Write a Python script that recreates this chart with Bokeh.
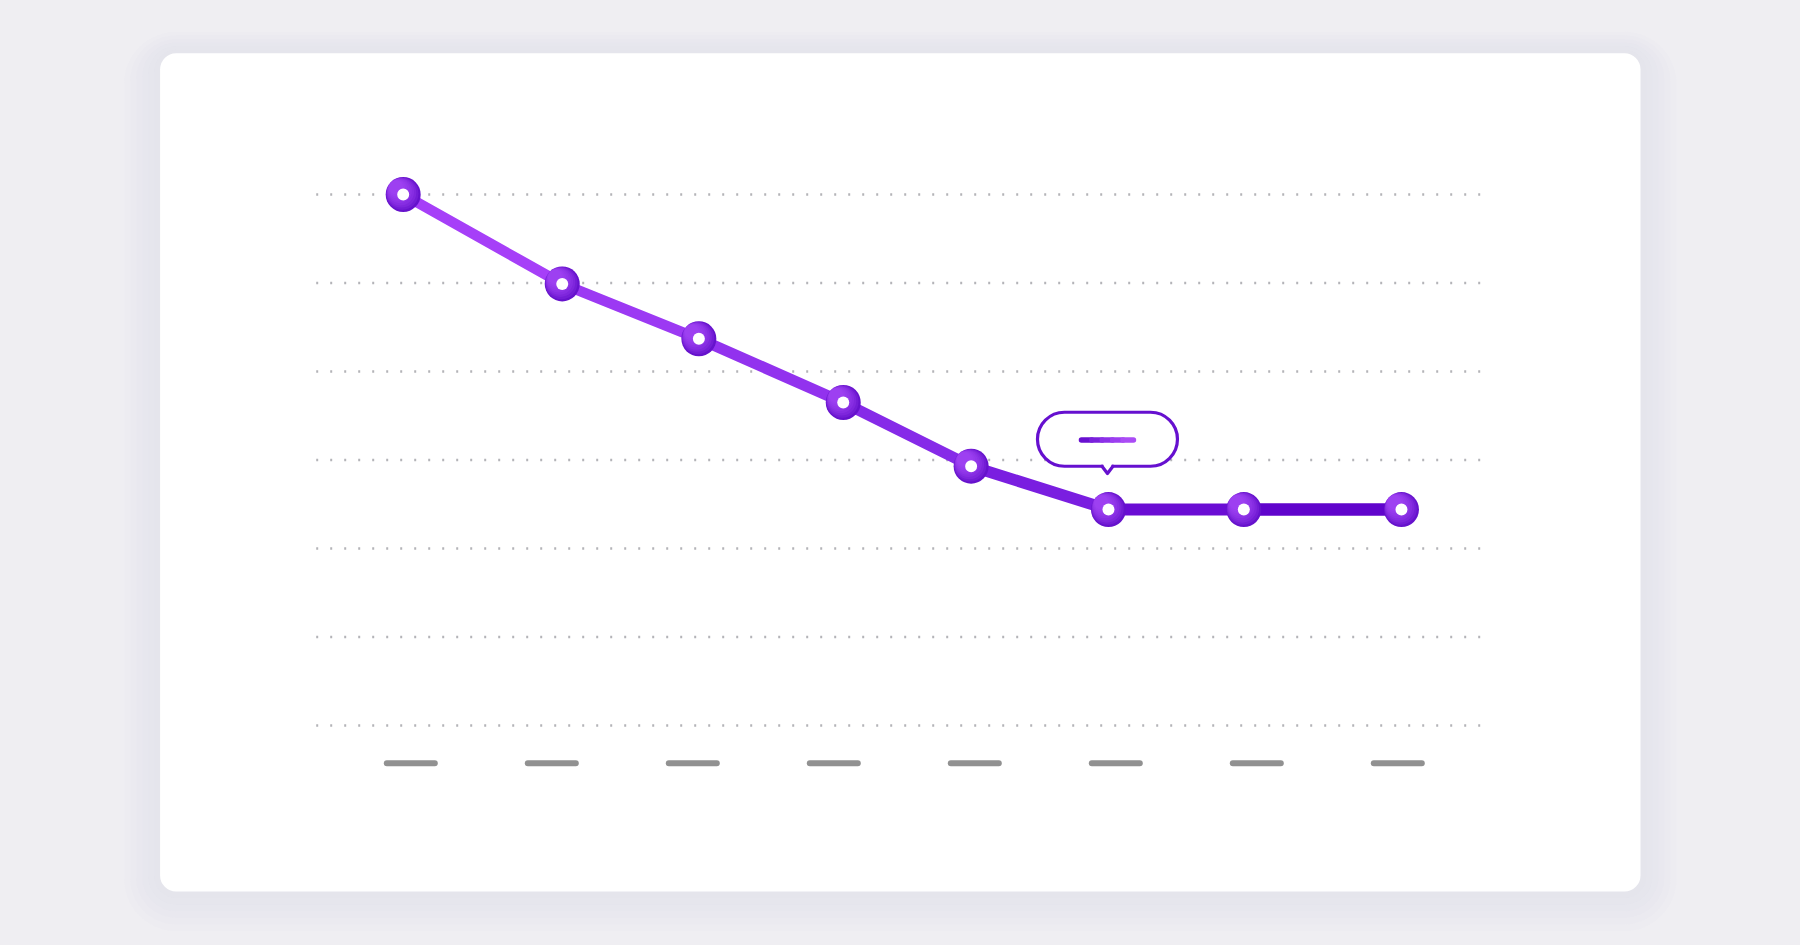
from bokeh.plotting import figure
from bokeh.models import Range1d, BoxAnnotation, ColumnDataSource
from bokeh.core.properties import value
from bokeh.embed import file_html
from bokeh.resources import INLINE

# ---------------- data ----------------
x_vals = [-0.054, 1.074, 2.043, 3.067, 3.974, 4.948, 5.908, 7.026]
y_vals = [6.0, 4.99, 4.37, 3.65, 2.93, 2.44, 2.44, 2.44]
tick_pos = [0, 1, 2, 3, 4, 5, 6, 7]
grid_levels = [0, 1, 2, 3, 4, 5, 6]
highlight_index = 5

# ---------------- styling ----------------
BG = "#efeef2"
seg_colors = ["#a63ff8", "#9c39f3", "#9232ee", "#862ae8", "#7a1ee0", "#6a0cd4", "#6004cc"]
seg_widths = [10.5, 10.5, 11, 11, 11.5, 12, 12.5]

# pixel scale of the layout (page pixels per data unit)
PX_X, X0_PX = 141.0, 410.3
PY, Y0_PX = 88.5, 725.0
W, H = 1800, 945
OFF = 0


def xd(px):  # page px -> data x
    return (px - X0_PX) / PX_X


def yd(px):  # page px -> data y
    return (Y0_PX - px) / PY


p = figure(width=W, height=H, output_backend="svg", toolbar_location=None,
           x_range=Range1d(xd(OFF), xd(OFF + W)), y_range=Range1d(yd(OFF + H), yd(OFF)),
           min_border=0, x_axis_location=None, y_axis_location=None,
           background_fill_color=BG, border_fill_color=BG, outline_line_color=None)
p.grid.visible = False

# ---------------- card + shadow ----------------
cl, cr, ct, cb = 159.6, 1640.0, 52.8, 891.0
for i in range(6):
    g = (6 - i) * 6
    p.add_layout(BoxAnnotation(left=xd(cl - g), right=xd(cr + g), top=yd(ct - g * 0.6),
                               bottom=yd(cb + g * 1.1), border_radius=16 + g,
                               fill_color="#d6d3e0", fill_alpha=0.045, line_color=None,
                               level="underlay"))
p.add_layout(BoxAnnotation(left=xd(cl), right=xd(cr), top=yd(ct), bottom=yd(cb),
                           border_radius=16, fill_color="#ffffff", fill_alpha=1,
                           line_color=None, level="underlay"))

# ---------------- dotted grid ----------------
gx0, gx1 = xd(315.7), xd(1484.4)
p.segment(x0=[gx0] * len(grid_levels), x1=[gx1] * len(grid_levels),
          y0=grid_levels, y1=grid_levels, line_color="#b4b4b8",
          line_width=2.4, line_dash=value("2 12"))

# ---------------- x tick dashes ----------------
tick_y = -37.7 / PY
half = 24 / PX_X
p.segment(x0=[t - half for t in tick_pos], x1=[t + half for t in tick_pos],
          y0=[tick_y] * len(tick_pos), y1=[tick_y] * len(tick_pos),
          line_color="#919191", line_width=6, line_cap="round")

# ---------------- line ----------------
seg_src = ColumnDataSource(dict(
    x0=x_vals[:-1], x1=x_vals[1:], y0=y_vals[:-1], y1=y_vals[1:],
    c=seg_colors, w=seg_widths))
p.segment(x0="x0", y0="y0", x1="x1", y1="y1", source=seg_src,
          line_color="c", line_width="w", line_cap="round")

# ---------------- markers (layered to imitate the gradient) ----------------
p.scatter(x_vals, y_vals, size=35, fill_color="#6612cc", line_color=None)
for i in range(1, 9):
    off = 0.9 * i
    p.scatter([x - off / PX_X for x in x_vals], [y + off / PY for y in y_vals],
              size=35 - 2.6 * i, fill_color="#a84cfa", fill_alpha=0.2, line_color=None)
p.scatter(x_vals, y_vals, size=12, fill_color="#ffffff", line_color=None)

# ---------------- callout bubble over the highlighted point ----------------
ax, ay = x_vals[highlight_index], y_vals[highlight_index]
bcx = ax - 1.0 / PX_X
bw, bh = 140.0, 54.0
b_bottom = ay + 43.3 / PY
b_top = b_bottom + bh / PY
tip_y = ay + 36.0 / PY
BUB = "#6610cf"
p.add_layout(BoxAnnotation(left=bcx - bw / 2 / PX_X, right=bcx + bw / 2 / PX_X,
                           top=b_top, bottom=b_bottom, border_radius=27,
                           fill_color="#ffffff", fill_alpha=1,
                           line_color=BUB, line_alpha=1, line_width=3.2, level="annotation"))
# notch
gap = 5.5 / PX_X
p.quad(left=[bcx - gap + 1.5 / PX_X], right=[bcx + gap - 1.5 / PX_X],
       bottom=[b_bottom - 3 / PY], top=[b_bottom + 3 / PY],
       fill_color="#ffffff", line_color=None, level="overlay")
p.line([bcx - gap, bcx, bcx + gap], [b_bottom, tip_y, b_bottom],
       line_color=BUB, line_width=3.2, line_join="round", line_cap="round",
       level="overlay")
# inner gradient bar
iy = ay + 69.5 / PY
inner_cols = ["#6810d0", "#7a20dc", "#8c30e8", "#9c3ef0", "#aa4cf5"]
n = len(inner_cols)
L = 52.0 / PX_X
xs0 = [bcx - L / 2 + L * k / n for k in range(n)]
xs1 = [bcx - L / 2 + L * (k + 1) / n for k in range(n)]
p.segment(x0=xs0, x1=xs1, y0=[iy] * n, y1=[iy] * n, line_color=inner_cols,
          line_width=5.5, line_cap="round", level="overlay")

html = file_html(p, INLINE)
html = html.replace("<head>", "<head><style>html,body{background:%s;}</style>" % BG, 1)
open("out.html", "w").write(html)
